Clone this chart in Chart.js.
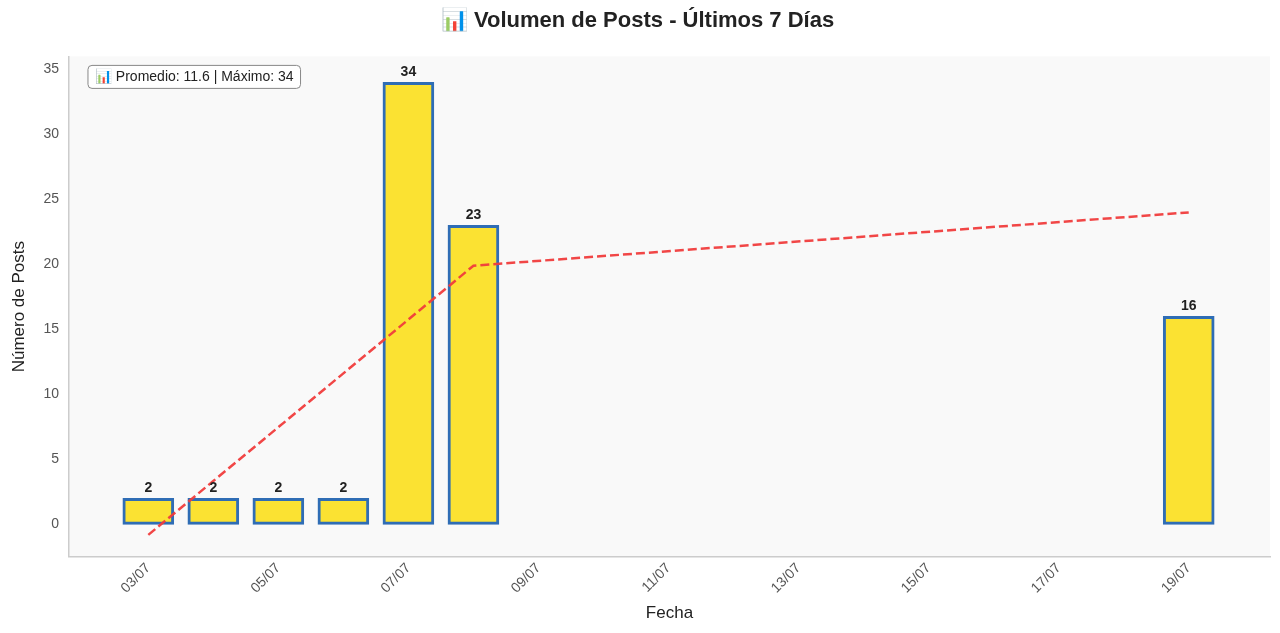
<!DOCTYPE html>
<html><head><meta charset="utf-8">
<script src="https://cdn.jsdelivr.net/npm/chart.js@4/dist/chart.umd.min.js"></script>
<style>html,body{margin:0;background:#fff}#w{width:1280px;height:633px}</style>
</head><body><div id="w"><canvas id="c"></canvas></div>
<script>
const days = [3,4,5,6,7,8,19];
const posts = [2,2,2,2,34,23,16];
const trend = [-0.8,3.34,7.48,11.62,15.76,19.9,24];
const xTicks = [3,5,7,9,11,13,15,17,19];
const yTicks = [0,5,10,15,20,25,30,35];
const avg = 11.6, maxV = 34;
const fmt = d => String(d).padStart(2,'0') + '/07';
const F = "'Liberation Sans', Arial, sans-serif";

const plugin = {
  id:'extras',
  beforeDraw(ch){
    const a=ch.chartArea,c=ch.ctx;
    c.save();c.fillStyle='#f9f9f9';c.fillRect(a.left,a.top,a.right-a.left,a.bottom-a.top);c.restore();
  },
  afterDatasetsDraw(ch){
    const c=ch.ctx,m=ch.getDatasetMeta(1),a=ch.chartArea;
    c.save();c.font="bold 14px "+F;c.fillStyle='#222';c.textAlign='center';c.textBaseline='bottom';
    m.data.forEach((b,i)=>c.fillText(posts[i],b.x,b.y-3));
    const t='📊 Promedio: '+avg+' | Máximo: '+maxV;
    c.font="14px "+F;const w=c.measureText(t).width;
    const x=a.left+19,y=a.top+9;
    c.fillStyle='rgba(255,255,255,0.9)';c.strokeStyle='#888';c.lineWidth=1;
    c.beginPath();c.roundRect(x,y,w+14,23,4);c.fill();c.stroke();
    c.fillStyle='#222';c.textAlign='left';c.textBaseline='middle';c.fillText(t,x+7,y+12);
    c.restore();
  }
};

new Chart(document.getElementById('c'),{
  data:{datasets:[
    {type:'line',data:days.map((d,i)=>({x:d,y:trend[i]})),borderColor:'rgba(240,60,60,0.95)',borderWidth:2.5,borderDash:[9,4],pointRadius:0,fill:false,order:0},
    {type:'bar',data:days.map((d,i)=>({x:d,y:posts[i]})),backgroundColor:'#fbe232',borderColor:'#2f6db5',borderWidth:3,borderSkipped:false,barThickness:51,order:1}
  ]},
  options:{
    responsive:true,maintainAspectRatio:false,animation:false,
    layout:{padding:{left:5,right:10,top:0,bottom:5}},
    plugins:{legend:{display:false},tooltip:{enabled:false},
      title:{display:true,text:'📊 Volumen de Posts - Últimos 7 Días',font:{family:F,size:22,weight:'bold'},color:'#222',padding:{top:8,bottom:22}}},
    scales:{
      x:{type:'linear',min:1.78,max:20.25,offset:false,
        afterBuildTicks(s){s.ticks=xTicks.map(v=>({value:v}));},
        ticks:{callback:v=>fmt(v),maxRotation:45,minRotation:45,color:'#555',font:{family:F,size:14}},
        grid:{display:false,drawTicks:false},border:{color:'#ccc',width:1.5},
        title:{display:true,text:'Fecha',color:'#222',font:{family:F,size:17}}},
      y:{min:-2.5,max:36,
        afterBuildTicks(s){s.ticks=yTicks.map(v=>({value:v}));},
        ticks:{color:'#555',font:{family:F,size:14},padding:10},
        grid:{display:false,drawTicks:false},border:{color:'#ccc',width:1.5},
        title:{display:true,text:'Número de Posts',color:'#222',font:{family:F,size:17}}}
    }
  },
  plugins:[plugin]
});
</script></body></html>
